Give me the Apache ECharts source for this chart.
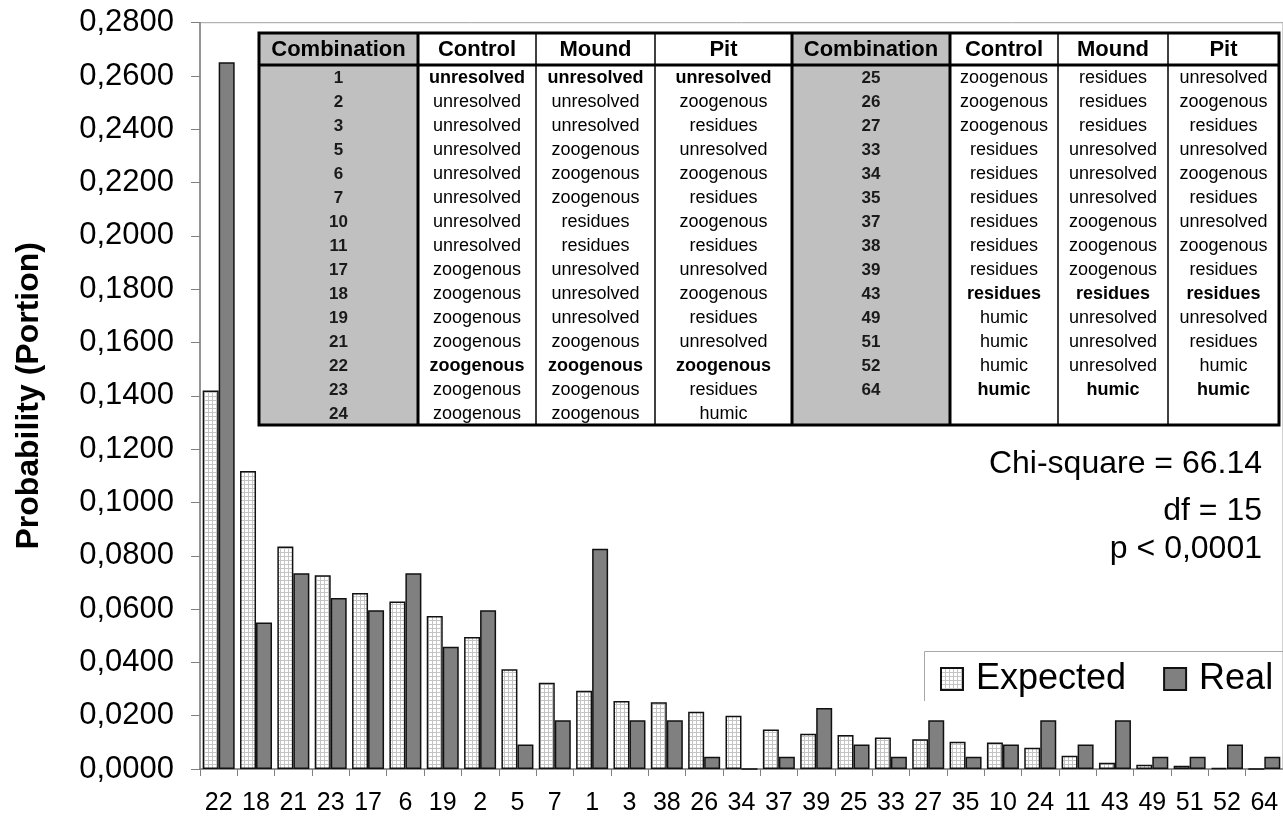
<!DOCTYPE html>
<html>
<head>
<meta charset="utf-8">
<title>Expected vs real combination probabilities</title>
<script src="https://cdn.jsdelivr.net/npm/echarts@6/dist/echarts.min.js"></script>
<style>
  html, body { margin: 0; padding: 0; background: #ffffff; }
  #chart { width: 1283px; height: 817px; }
</style>
</head>
<body>
<div id="chart"></div>
<script>
// Combination codes along the x axis, ordered by expected probability
const combinations = ['22', '18', '21', '23', '17', '6', '19', '2', '5', '7',
  '1', '3', '38', '26', '34', '37', '39', '25', '33', '27',
  '35', '10', '24', '11', '43', '49', '51', '52', '64'];

// Expected probability of each combination
const expected = [0.1420, 0.1118, 0.0835, 0.0727, 0.0660, 0.0628, 0.0574, 0.0495, 0.0374, 0.0324,
  0.0294, 0.0255, 0.0250, 0.0215, 0.0200, 0.0148, 0.0132, 0.0128, 0.0118, 0.0112,
  0.0102, 0.0099, 0.0080, 0.0050, 0.0023, 0.0016, 0.0012, 0.0004, 0.0000];

// Observed (real) proportion of each combination
const real = [0.2652, 0.0550, 0.0734, 0.0642, 0.0596, 0.0734, 0.0459, 0.0596, 0.0092, 0.0183,
  0.0826, 0.0183, 0.0183, 0.0046, 0.0000, 0.0046, 0.0229, 0.0092, 0.0046, 0.0183,
  0.0046, 0.0092, 0.0183, 0.0092, 0.0183, 0.0046, 0.0046, 0.0092, 0.0046];

// Legend names
const seriesNames = ['Expected', 'Real'];

// Statistics printed beside the table
const statLines = ['Chi-square = 66.14', 'df = 15', 'p < 0,0001'];

// Key table: combination code -> humus form in Control / Mound / Pit
const tableHeader = ['Combination', 'Control', 'Mound', 'Pit'];
const tableLeft = [
  ['1', 'unresolved', 'unresolved', 'unresolved'],
  ['2', 'unresolved', 'unresolved', 'zoogenous'],
  ['3', 'unresolved', 'unresolved', 'residues'],
  ['5', 'unresolved', 'zoogenous', 'unresolved'],
  ['6', 'unresolved', 'zoogenous', 'zoogenous'],
  ['7', 'unresolved', 'zoogenous', 'residues'],
  ['10', 'unresolved', 'residues', 'zoogenous'],
  ['11', 'unresolved', 'residues', 'residues'],
  ['17', 'zoogenous', 'unresolved', 'unresolved'],
  ['18', 'zoogenous', 'unresolved', 'zoogenous'],
  ['19', 'zoogenous', 'unresolved', 'residues'],
  ['21', 'zoogenous', 'zoogenous', 'unresolved'],
  ['22', 'zoogenous', 'zoogenous', 'zoogenous'],
  ['23', 'zoogenous', 'zoogenous', 'residues'],
  ['24', 'zoogenous', 'zoogenous', 'humic']
];
const tableRight = [
  ['25', 'zoogenous', 'residues', 'unresolved'],
  ['26', 'zoogenous', 'residues', 'zoogenous'],
  ['27', 'zoogenous', 'residues', 'residues'],
  ['33', 'residues', 'unresolved', 'unresolved'],
  ['34', 'residues', 'unresolved', 'zoogenous'],
  ['35', 'residues', 'unresolved', 'residues'],
  ['37', 'residues', 'zoogenous', 'unresolved'],
  ['38', 'residues', 'zoogenous', 'zoogenous'],
  ['39', 'residues', 'zoogenous', 'residues'],
  ['43', 'residues', 'residues', 'residues'],
  ['49', 'humic', 'unresolved', 'unresolved'],
  ['51', 'humic', 'unresolved', 'residues'],
  ['52', 'humic', 'unresolved', 'humic'],
  ['64', 'humic', 'humic', 'humic']
];
// Uniform combinations are printed in bold
const uniformCombos = ['1', '22', '43', '64'];

const FONT = '"Liberation Sans", Arial, Helvetica, sans-serif';

// Small checkered tile used as the fill of the "Expected" bars
function makeGridTile() {
  const c = document.createElement('canvas');
  c.width = 4; c.height = 4;
  const g = c.getContext('2d');
  g.fillStyle = '#ffffff';
  g.fillRect(0, 0, 4, 4);
  g.fillStyle = '#c4c4c4';
  g.fillRect(0, 0, 4, 1);
  g.fillRect(0, 0, 1, 4);
  return c;
}
const gridFill = { image: makeGridTile(), repeat: 'repeat' };

// ---- key table drawn as graphic elements ----
function buildTable() {
  const els = [];
  const top = 33, headBottom = 65, rowH = 24, bottom = 425;
  const halves = [
    { cols: [259, 418, 536, 655, 792], rows: tableLeft },
    { cols: [792, 950, 1058, 1168, 1279], rows: tableRight }
  ];
  // background
  els.push({ type: 'rect', z: 10, shape: { x: 259, y: top, width: 1279 - 259, height: bottom - top },
    style: { fill: '#ffffff' } });
  halves.forEach(h => {
    const c = h.cols;
    els.push({ type: 'rect', z: 11, shape: { x: c[0], y: top, width: c[1] - c[0], height: bottom - top },
      style: { fill: '#c0c0c0' } });
    // header texts
    for (let i = 0; i < 4; i++) {
      els.push({ type: 'text', z: 14, x: (c[i] + c[i + 1]) / 2, y: (top + headBottom) / 2 + 1,
        style: { text: tableHeader[i], fill: '#000', fontFamily: FONT, fontWeight: 'bold', fontSize: 22,
          align: 'center', verticalAlign: 'middle' } });
    }
    // body rows
    h.rows.forEach((r, k) => {
      const cy = headBottom + rowH * k + rowH / 2 + 1;
      const bold = uniformCombos.indexOf(r[0]) >= 0;
      els.push({ type: 'text', z: 14, x: (c[0] + c[1]) / 2, y: cy,
        style: { text: r[0], fill: '#1a1a1a', fontFamily: FONT, fontWeight: 'bold', fontSize: 17,
          align: 'center', verticalAlign: 'middle' } });
      for (let i = 1; i < 4; i++) {
        els.push({ type: 'text', z: 14, x: (c[i] + c[i + 1]) / 2, y: cy,
          style: { text: r[i], fill: '#000', fontFamily: FONT, fontWeight: bold ? 'bold' : 'normal',
            fontSize: 18, align: 'center', verticalAlign: 'middle' } });
      }
    });
    // column rules
    [[c[1], 3], [c[2], 1.5], [c[3], 1.5]].forEach(([x, w]) => {
      els.push({ type: 'line', z: 13, shape: { x1: x, y1: top, x2: x, y2: bottom },
        style: { stroke: '#000', lineWidth: w } });
    });
  });
  // divider between the two halves
  els.push({ type: 'line', z: 13, shape: { x1: 792, y1: top, x2: 792, y2: bottom },
    style: { stroke: '#000', lineWidth: 3 } });
  // header rule
  els.push({ type: 'line', z: 13, shape: { x1: 259, y1: headBottom, x2: 1279, y2: headBottom },
    style: { stroke: '#000', lineWidth: 3 } });
  // outer frame
  els.push({ type: 'rect', z: 13, shape: { x: 259, y: top, width: 1279 - 259, height: bottom - top },
    style: { fill: 'none', stroke: '#000', lineWidth: 3 } });
  return els;
}

function buildStats() {
  const ys = [464, 511, 549];
  return statLines.map((t, i) => ({
    type: 'text', z: 14, x: 1262, y: ys[i],
    style: { text: t, fill: '#000', fontFamily: FONT, fontSize: 32, align: 'right', verticalAlign: 'middle' }
  }));
}

// Legend frame: open towards the right edge of the page
function buildLegendFrame() {
  return [{
    type: 'polyline', z: 4,
    shape: { points: [[924.5, 701], [924.5, 651.5], [1300, 651.5]] },
    style: { stroke: '#a8a8a8', lineWidth: 1, fill: 'none' }
  }];
}

const chart = echarts.init(document.getElementById('chart'), null, { renderer: 'canvas' });

chart.setOption({
  backgroundColor: '#ffffff',
  animation: false,
  grid: {
    left: 200, top: 22.7, right: -6, bottom: 48,
    show: true, borderColor: '#a0a0a0', borderWidth: 1, backgroundColor: 'transparent'
  },
  legend: {
    data: seriesNames,
    orient: 'horizontal',
    left: 924, top: 651,
    padding: [10, 4, 10, 16],
    itemWidth: 22, itemHeight: 22, itemGap: 37,
    icon: 'rect',
    borderWidth: 0,
    textStyle: { fontFamily: FONT, fontSize: 36, color: '#000', padding: [0, 0, 0, 8] }
  },
  xAxis: {
    type: 'category',
    data: combinations,
    axisLine: { lineStyle: { color: '#808080', width: 1.5 } },
    axisTick: { show: true, length: 7, lineStyle: { color: '#808080' } },
    axisLabel: { interval: 0, margin: 22, fontFamily: FONT, fontSize: 25, color: '#000' }
  },
  yAxis: {
    type: 'value',
    min: 0, max: 0.28, interval: 0.02,
    name: 'Probability (Portion)',
    nameLocation: 'middle',
    nameRotate: 90,
    nameGap: 155,
    nameTextStyle: { fontFamily: FONT, fontSize: 32, fontWeight: 'bold', color: '#000' },
    axisLine: { show: true, lineStyle: { color: '#808080', width: 1.5 } },
    axisTick: { show: true, length: 9, lineStyle: { color: '#808080' } },
    splitLine: { show: false },
    axisLabel: {
      margin: 26, fontFamily: FONT, fontSize: 31, color: '#000',
      formatter: v => v.toFixed(4).replace('.', ',')
    }
  },
  series: [
    {
      name: seriesNames[0], type: 'bar', data: expected,
      barWidth: 16, barGap: '0%',
      itemStyle: { color: gridFill, borderColor: '#111', borderWidth: 1.5 }
    },
    {
      name: seriesNames[1], type: 'bar', data: real,
      barWidth: 16,
      itemStyle: { color: '#808080', borderColor: '#111', borderWidth: 1.5 }
    }
  ],
  graphic: { elements: buildTable().concat(buildStats(), buildLegendFrame()) }
});
</script>
</body>
</html>
